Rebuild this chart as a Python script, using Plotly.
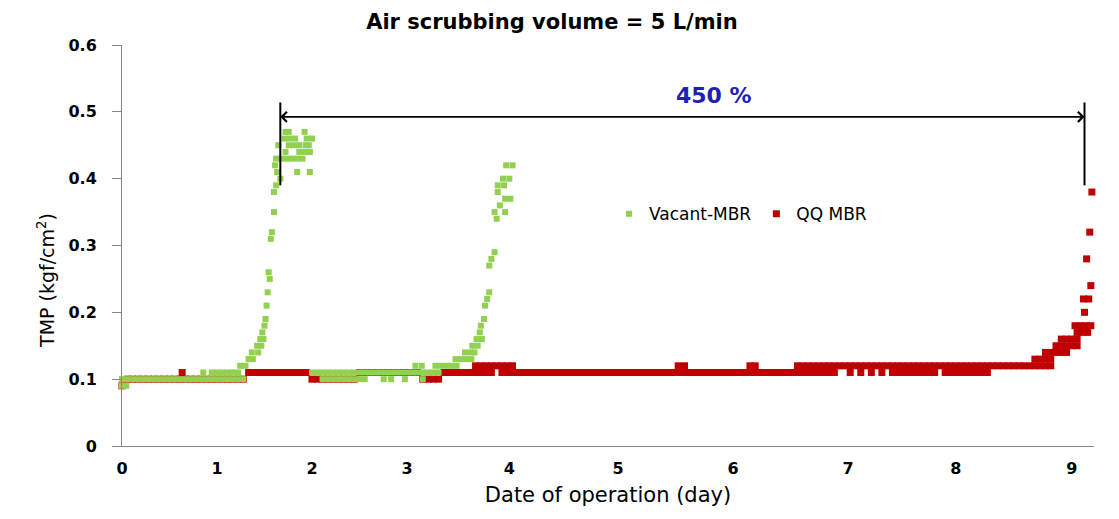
import plotly.graph_objects as go

# ---------------- text ----------------
TITLE = "Air scrubbing volume = 5 L/min"
X_TITLE = "Date of operation (day)"
Y_TITLE = "TMP (kgf/cm<sup>2</sup>)"
SERIES = ["Vacant-MBR", "QQ MBR"]
SPAN_LABEL = "450 %"

# x-axis category labels (Excel category axis: labels sit at uneven positions)
X_TICK_POS = [0.00, 0.90, 1.80, 2.70, 3.67, 4.70, 5.79, 6.88, 7.90, 9.00]
X_TICK_LABELS = ["0", "1", "2", "3", "4", "5", "6", "7", "8", "9"]

# span annotated with the double arrow (end of Vacant-MBR run -> end of QQ MBR run)
SPAN_START = 1.50
SPAN_END = 9.12

# ---------------- data ----------------
# Each TMP reading level (kgf/cm2) with the operation days at which it was logged
GREEN_LEVELS = [0.09, 0.10, 0.11, 0.12, 0.13, 0.14, 0.15, 0.16, 0.17, 0.18, 0.19,
                0.21, 0.22, 0.23, 0.25, 0.26, 0.27, 0.28, 0.29, 0.31, 0.32, 0.34,
                0.35, 0.36, 0.37, 0.38, 0.39, 0.40, 0.41, 0.42, 0.43, 0.44, 0.45,
                0.46, 0.47]
GREEN_DAYS = [
    [0.00, 0.04],
    [0.00, 0.05, 0.10, 0.15, 0.20, 0.25, 0.30, 0.35, 0.40, 0.45, 0.50, 0.55,
     0.60, 0.65, 0.70, 0.75, 0.80, 0.85, 0.90, 0.95, 1.00, 1.05, 1.10, 1.15,
     1.90, 1.95, 2.00, 2.05, 2.10, 2.15, 2.20, 2.25, 2.30, 2.48, 2.55, 2.68, 2.85],
    [0.77, 0.85, 0.90, 0.95, 1.00, 1.05, 1.10,
     1.80, 1.85, 1.90, 1.95, 2.00, 2.05, 2.10, 2.15, 2.20, 2.25, 2.30, 2.35,
     2.40, 2.45, 2.50, 2.55, 2.60, 2.65, 2.70, 2.75, 2.80, 2.85, 2.90, 2.95, 3.00],
    [1.12, 1.17, 2.78, 2.84, 2.97, 3.02, 3.07, 3.12, 3.17],
    [1.20, 1.24, 3.16, 3.21, 3.26, 3.31],
    [1.23, 1.29, 3.25, 3.30, 3.34],
    [1.28, 1.32, 3.32, 3.37],
    [1.31, 1.34, 3.36, 3.41],
    [1.33, 3.39],
    [1.35, 3.40],
    [1.36, 3.43],
    [1.37, 3.44],
    [3.46],
    [1.38, 3.48],
    [1.40],
    [1.39],
    [3.48],
    [3.50],
    [3.53],
    [1.41],
    [1.42],
    [3.55],
    [1.44, 3.53, 3.63],
    [3.58],
    [3.63, 3.68],
    [1.44, 3.56],
    [1.46, 3.56, 3.62],
    [1.50, 3.61, 3.67],
    [1.47, 1.66, 1.78],
    [1.45, 3.64, 3.70],
    [1.46, 1.51, 1.56, 1.61, 1.66, 1.71],
    [1.55, 1.68, 1.73, 1.78],
    [1.48, 1.58, 1.63, 1.68, 1.74, 1.77],
    [1.54, 1.59, 1.64, 1.75, 1.80],
    [1.55, 1.58, 1.73],
]

RED_LEVELS = [0.09, 0.10, 0.11, 0.12, 0.13, 0.14, 0.15, 0.16, 0.17, 0.18,
              0.20, 0.22, 0.24, 0.28, 0.32, 0.38]
RED_DAYS = [
    [0.00],
    [0.05, 0.10, 0.15, 0.20, 0.25, 0.30, 0.35, 0.40, 0.45, 0.50, 0.55, 0.60,
     0.65, 0.70, 0.75, 0.80, 0.85, 0.90, 0.95, 1.00, 1.05, 1.10, 1.15,
     1.80, 1.85, 1.90, 1.95, 2.00, 2.05, 2.10, 2.15, 2.20,
     2.85, 2.90, 2.95, 3.00],
    [0.57,
     1.20, 1.25, 1.30, 1.35, 1.40, 1.45, 1.50, 1.55, 1.60, 1.65, 1.70, 1.75,
     2.25, 2.30, 2.35, 2.40, 2.45, 2.50, 2.55, 2.60, 2.65, 2.70, 2.75, 2.80,
     3.05, 3.10, 3.15, 3.20, 3.25, 3.30, 3.35, 3.40, 3.45, 3.50,
     3.60, 3.65, 3.70, 3.75, 3.80, 3.85, 3.90, 3.95,
     4.00, 4.05, 4.10, 4.15, 4.20, 4.25, 4.30, 4.35, 4.40, 4.45,
     4.50, 4.55, 4.60, 4.65, 4.70, 4.75, 4.80, 4.85, 4.90, 4.95,
     5.00, 5.05, 5.10, 5.15, 5.20, 5.25, 5.30, 5.35, 5.40, 5.45,
     5.50, 5.55, 5.60, 5.65, 5.70, 5.75, 5.80, 5.85, 5.90, 5.95,
     6.00, 6.05, 6.10, 6.15, 6.20, 6.25, 6.30, 6.35, 6.40, 6.45,
     6.50, 6.55, 6.60, 6.65, 6.70, 6.75, 6.90, 7.00, 7.10, 7.20,
     7.30, 7.35, 7.40, 7.45, 7.50, 7.55, 7.60, 7.65, 7.70,
     7.80, 7.85, 7.90, 7.95, 8.00, 8.05, 8.10, 8.15, 8.20],
    [3.35, 3.40, 3.45, 3.50, 3.55, 3.60, 3.65, 3.70, 5.27, 5.33, 5.95, 6.00,
     6.40, 6.45, 6.50, 6.55, 6.60, 6.65, 6.70, 6.75, 6.80, 6.85,
     6.90, 6.95, 7.00, 7.05, 7.10, 7.15, 7.20, 7.25, 7.30, 7.35,
     7.40, 7.45, 7.50, 7.55, 7.60, 7.65, 7.70, 7.75, 7.80, 7.85,
     7.90, 7.95, 8.00, 8.05, 8.10, 8.15, 8.20, 8.25, 8.30, 8.35,
     8.40, 8.45, 8.50, 8.55, 8.60, 8.65, 8.70, 8.75, 8.80],
    [8.65, 8.70, 8.75, 8.80],
    [8.75, 8.80, 8.85, 8.90, 8.95],
    [8.85, 8.90, 8.95, 9.00, 9.05],
    [8.90, 8.95, 9.00, 9.05],
    [9.05, 9.10, 9.15],
    [9.03, 9.08, 9.13, 9.18],
    [9.12],
    [9.11, 9.16],
    [9.18],
    [9.14],
    [9.17],
    [9.19],
]


def flatten(levels, days):
    xs, ys = [], []
    for lvl, dlist in zip(levels, days):
        for d in dlist:
            xs.append(d)
            ys.append(lvl)
    return xs, ys


gx, gy = flatten(GREEN_LEVELS, GREEN_DAYS)
rx, ry = flatten(RED_LEVELS, RED_DAYS)

FONT = "DejaVu Sans, Noto Sans, sans-serif"
AXIS_GREY = "#868686"

fig = go.Figure()
fig.add_trace(go.Scatter(
    x=rx, y=ry, mode="markers", name=SERIES[1], legendrank=2,
    marker=dict(symbol="square", size=7, color="#C00000", line=dict(width=0)),
    cliponaxis=False,
))
fig.add_trace(go.Scatter(
    x=gx, y=gy, mode="markers", name=SERIES[0], legendrank=1,
    marker=dict(symbol="square", size=6, color="#92D050", line=dict(width=0)),
    cliponaxis=False,
))

# double-headed arrow: two overlapping single arrows spanning the full width
arrow_y = 0.4925
for head, tail in ((SPAN_START, SPAN_END), (SPAN_END, SPAN_START)):
    fig.add_annotation(
        x=head, y=arrow_y, ax=tail, ay=arrow_y, xref="x", yref="y",
        axref="x", ayref="y", text="", showarrow=True,
        arrowhead=4, arrowsize=1.3, arrowwidth=1.5, arrowcolor="black",
        standoff=0, startstandoff=0,
    )
for end in (SPAN_START, SPAN_END):
    fig.add_shape(type="line", xref="x", yref="y", x0=end, x1=end,
                  y0=0.39, y1=0.514, line=dict(color="black", width=2))

fig.add_annotation(
    x=5.61, y=0.525, xref="x", yref="y",
    text="<b>" + SPAN_LABEL + "</b>", showarrow=False,
    font=dict(family=FONT, size=22, color="#1F1FB4"),
)

fig.add_annotation(
    x=-0.0926, y=0.414, xref="paper", yref="paper", text=Y_TITLE,
    textangle=-90, showarrow=False,
    font=dict(family=FONT, size=19, color="black"),
)

# page body has an 8px margin: figure is sized/margined so the plot area
# lands at the same place as in the reference
fig.update_layout(
    width=1111, height=511,
    margin=dict(l=114, r=25, t=37, b=73),
    paper_bgcolor="white", plot_bgcolor="white",
    font=dict(family=FONT, color="black"),
    title=dict(text="<b>" + TITLE + "</b>", x=0.4896, xref="container",
               xanchor="center", y=0.9726, yref="container", yanchor="middle",
               font=dict(family=FONT, size=21, color="black")),
    showlegend=True,
    legend=dict(orientation="h", x=0.501, y=0.578, xanchor="left",
                yanchor="middle", bgcolor="rgba(0,0,0,0)",
                font=dict(family=FONT, size=17, color="black")),
    xaxis=dict(
        range=[0, 9.21], showgrid=False, zeroline=False,
        showline=True, linecolor=AXIS_GREY, linewidth=1,
        ticks="", tickvals=X_TICK_POS, ticktext=X_TICK_LABELS,
        ticklabelstandoff=8,
        tickfont=dict(family=FONT, size=16, color="black", weight="bold"),
        title=dict(text=X_TITLE, standoff=10,
                   font=dict(family=FONT, size=21, color="black")),
    ),
    yaxis=dict(
        range=[0, 0.6], dtick=0.1, tick0=0, showgrid=False, zeroline=False,
        showline=True, linecolor=AXIS_GREY, linewidth=1,
        ticks="outside", ticklen=9, tickcolor=AXIS_GREY,
        ticklabelstandoff=12,
        tickfont=dict(family=FONT, size=16, color="black", weight="bold"),
    ),
)

fig.write_html("out.html")
